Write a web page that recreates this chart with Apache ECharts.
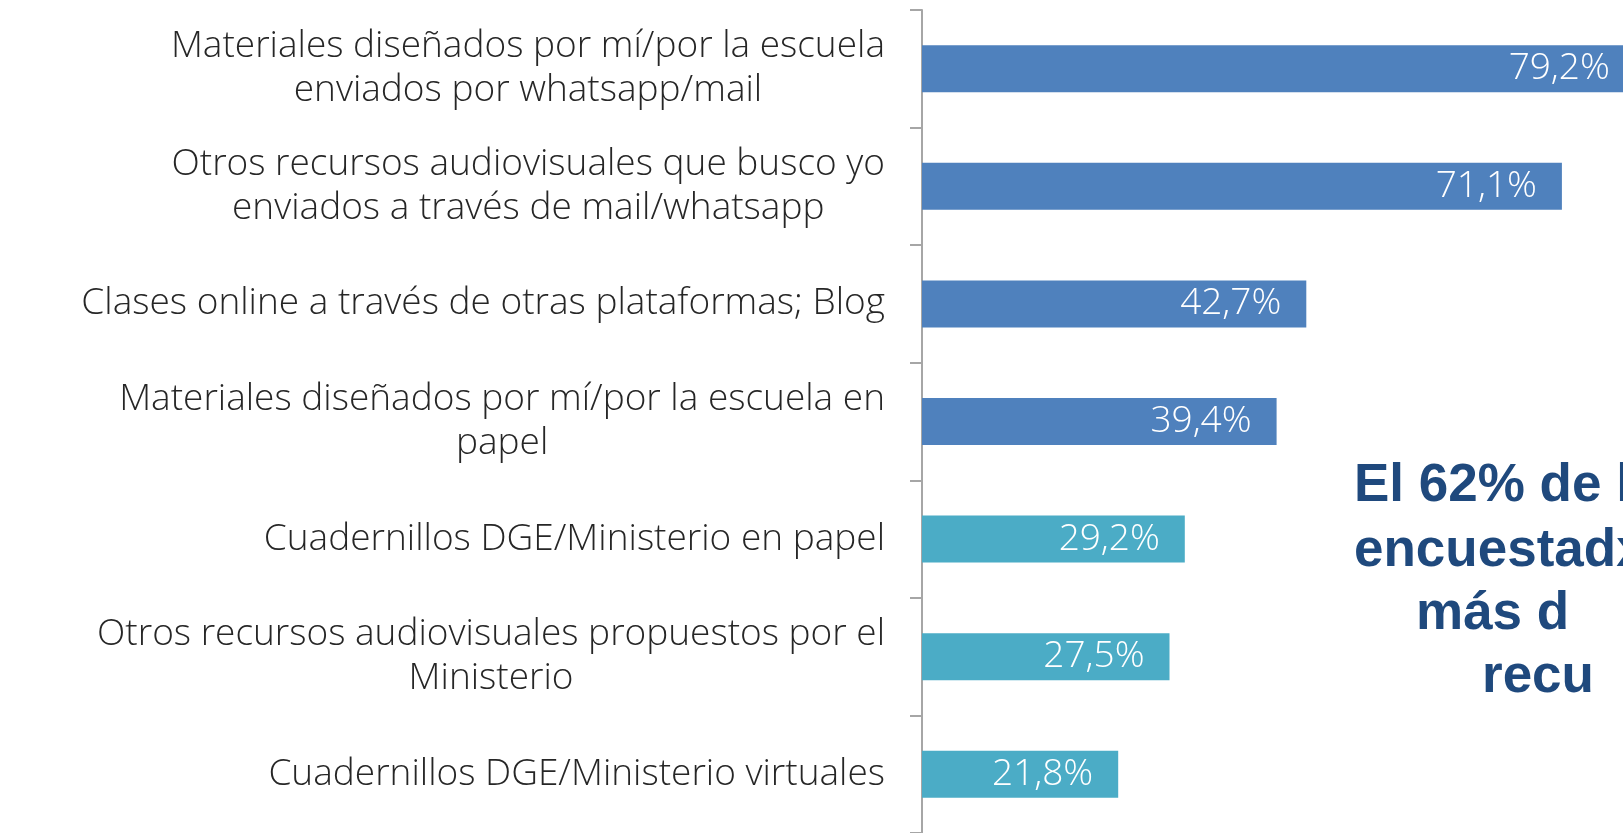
<!DOCTYPE html>
<html>
<head>
<meta charset="utf-8">
<script src="https://cdn.jsdelivr.net/npm/echarts@6/dist/echarts.min.js"></script>
<style>
  html, body { margin: 0; padding: 0; background: #fff; }
  #chart { width: 1623px; height: 833px; }
</style>
</head>
<body>
<div id="chart"></div>
<script>
const categories = [
  'Materiales diseñados por mí/por la escuela\nenviados por whatsapp/mail',
  'Otros recursos audiovisuales que busco yo\nenviados a través de mail/whatsapp',
  'Clases online a través de otras plataformas; Blog',
  'Materiales diseñados por mí/por la escuela en\npapel',
  'Cuadernillos DGE/Ministerio en papel',
  'Otros recursos audiovisuales propuestos por el\nMinisterio',
  'Cuadernillos DGE/Ministerio virtuales'
];
const values = [79.2, 71.1, 42.7, 39.4, 29.2, 27.5, 21.8];
const groups = ['dark', 'dark', 'dark', 'dark', 'light', 'light', 'light'];
const noteLines = ['El 62% de l', 'encuestadx', 'más d', 'recu'];

const palette = { dark: '#4F81BD', light: '#4BACC6' };
const labelFont = '"Open Sans", Lato, sans-serif';
const catStyle = { fontFamily: labelFont, fontWeight: 300, fontSize: 37, lineHeight: 44, color: '#262626' };

const chart = echarts.init(document.getElementById('chart'));

const notePos = [[1354, 490], [1354, 555], [1416, 618], [1482, 681]];

chart.setOption({
  animation: false,
  // the plot runs past the right edge of the picture, so the longest bar is cut
  grid: { left: 922, top: 10, bottom: 0, width: 900, outerBoundsMode: 'none', containLabel: false },
  xAxis: {
    type: 'value',
    min: 0,
    max: 100,
    show: false
  },
  yAxis: {
    type: 'category',
    inverse: true,
    data: categories,
    axisLine: { lineStyle: { color: '#A6A6A6', width: 2 } },
    axisTick: { show: true, interval: 0, length: 12, lineStyle: { color: '#A6A6A6', width: 2 } },
    axisLabel: Object.assign({
      margin: 37,
      interval: 0,
      align: 'right',
      // centre the lines of a wrapped label within its block
      formatter: v => v.split('\n').map(l => '{c|' + l + '}').join('\n'),
      rich: { c: Object.assign({ align: 'center' }, catStyle) }
    }, catStyle)
  },
  series: [{
    type: 'bar',
    barWidth: 47,
    clip: false,
    data: values.map((v, i) => ({
      value: v,
      itemStyle: { color: palette[groups[i]] }
    })),
    label: {
      show: true,
      position: 'insideRight',
      distance: 25,
      color: '#fff',
      fontFamily: labelFont,
      fontWeight: 300,
      fontSize: 37,
      formatter: p => p.value.toFixed(1).replace('.', ',') + '%'
    }
  }],
  graphic: noteLines.map((t, i) => ({
    type: 'text',
    left: notePos[i][0],
    top: notePos[i][1] - 30,
    style: {
      text: t,
      font: 'bold 53px "Liberation Sans", Arial, sans-serif',
      fill: '#1F497D'
    }
  }))
});
</script>
</body>
</html>
